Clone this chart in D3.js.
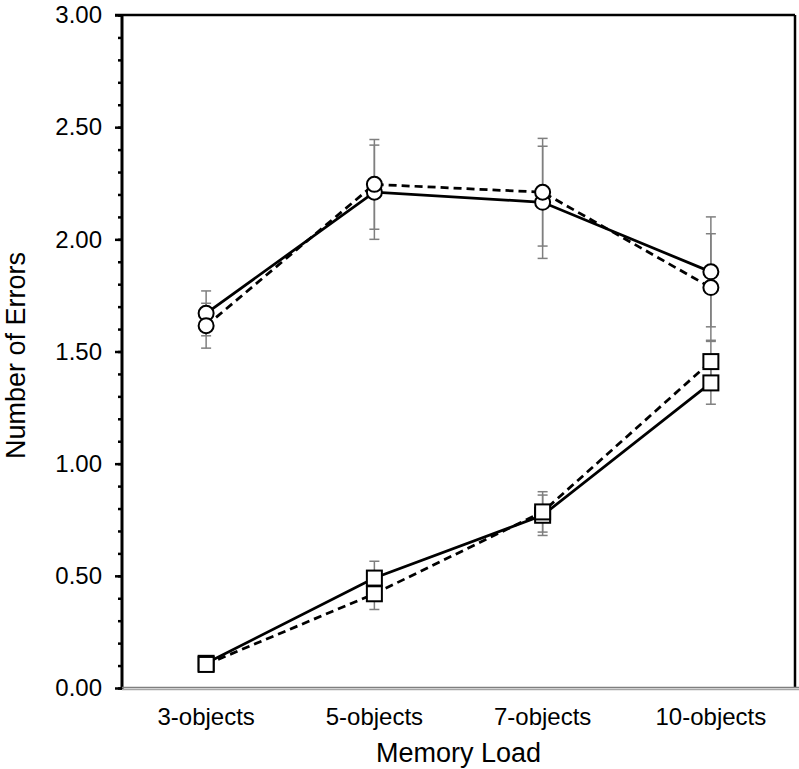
<!DOCTYPE html>
<html>
<head>
<meta charset="utf-8">
<script src="https://cdn.jsdelivr.net/npm/d3@7"></script>
<style>
  body { margin: 0; background: #fff; }
  text { font-family: "Liberation Sans", Arial, sans-serif; fill: #000; }
</style>
</head>
<body>
<div id="chart"></div>
<script>
// categories and tick labels
const categories = ['3-objects', '5-objects', '7-objects', '10-objects'];
const yTicks = [0, 0.5, 1.0, 1.5, 2.0, 2.5, 3.0];

// circle series (solid / dashed)
const circleSolid = [1.67, 2.21, 2.165, 1.855];
const circleSolidErr = [0.10, 0.21, 0.25, 0.245];
const circleDashed = [1.615, 2.245, 2.21, 1.785];
const circleDashedErr = [0.10, 0.20, 0.24, 0.24];

// square series (solid / dashed)
const squareSolid = [0.11, 0.49, 0.77, 1.36];
const squareSolidErr = [0.03, 0.075, 0.09, 0.095];
const squareDashed = [0.105, 0.42, 0.785, 1.455];
const squareDashedErr = [0.03, 0.07, 0.09, 0.095];

const W = 799, H = 769;
const margin = {top: 15, right: 4, bottom: 81, left: 122};
const width = W - margin.left - margin.right;
const height = H - margin.top - margin.bottom;

const svg = d3.select('#chart').append('svg')
  .attr('width', W)
  .attr('height', H);

const g = svg.append('g')
  .attr('transform', `translate(${margin.left},${margin.top})`);

const x = d3.scaleBand()
  .domain(categories)
  .range([0, width]);

const y = d3.scaleLinear()
  .domain([0, 3])
  .range([height, 0]);

// frame: top and right borders
g.append('line')
  .attr('x1', -7).attr('x2', width)
  .attr('y1', 0).attr('y2', 0)
  .attr('stroke', '#000').attr('stroke-width', 2.5);
g.append('line')
  .attr('x1', width).attr('x2', width)
  .attr('y1', 0).attr('y2', height)
  .attr('stroke', '#000').attr('stroke-width', 2.5);

// minor y ticks
const yMinor = d3.axisLeft(y)
  .tickValues(d3.range(0, 3.001, 0.1))
  .tickSize(4)
  .tickFormat('');
g.append('g').call(yMinor)
  .call(s => s.select('.domain').remove())
  .selectAll('line').attr('stroke', '#000').attr('stroke-width', 2.5);

// major y axis
const yAxis = d3.axisLeft(y)
  .tickValues(yTicks)
  .tickSize(7)
  .tickPadding(13)
  .tickFormat(d3.format('.2f'));
g.append('g').call(yAxis)
  .call(s => s.select('.domain').attr('stroke', '#000').attr('stroke-width', 3).attr('d', `M0,${height + 1}V0`))
  .call(s => s.selectAll('line').attr('stroke', '#000').attr('stroke-width', 2.5))
  .selectAll('text')
  .style('font-size', '24px');

// x axis (gray baseline, no ticks)
const xAxis = d3.axisBottom(x).tickSize(0).tickPadding(20);
const xg = g.append('g')
  .attr('transform', `translate(0,${height})`)
  .call(xAxis);
xg.select('.domain').remove();
xg.selectAll('text').style('font-size', '24px');
g.append('line')
  .attr('x1', 0).attr('x2', width + margin.right)
  .attr('y1', height - 0.5).attr('y2', height - 0.5)
  .attr('stroke', '#7f7f7f').attr('stroke-width', 1.5);
g.append('line')
  .attr('x1', 0).attr('x2', width + margin.right)
  .attr('y1', height + 1.5).attr('y2', height + 1.5)
  .attr('stroke', '#a6a6a6').attr('stroke-width', 1.5);

// axis titles
svg.append('text')
  .attr('x', margin.left + width / 2)
  .attr('y', 762)
  .attr('text-anchor', 'middle')
  .style('font-size', '27px')
  .text('Memory Load');
svg.append('text')
  .attr('transform', `translate(25,${margin.top + height / 2 + 4}) rotate(-90)`)
  .attr('text-anchor', 'middle')
  .style('font-size', '27px')
  .text('Number of Errors');

const cx = c => x(c) + x.bandwidth() / 2;

const series = [
  {vals: circleSolid, err: circleSolidErr, shape: 'circle', dash: null},
  {vals: circleDashed, err: circleDashedErr, shape: 'circle', dash: '8,5'},
  {vals: squareSolid, err: squareSolidErr, shape: 'square', dash: null},
  {vals: squareDashed, err: squareDashedErr, shape: 'square', dash: '8,5'}
];

// error bars
series.forEach(s => {
  const eb = g.append('g').attr('stroke', '#7f7f7f').attr('stroke-width', 1.5);
  categories.forEach((c, i) => {
    const hi = y(s.vals[i] + s.err[i]);
    const lo = y(s.vals[i] - s.err[i]);
    eb.append('line').attr('x1', cx(c)).attr('x2', cx(c)).attr('y1', hi).attr('y2', lo);
    eb.append('line').attr('x1', cx(c) - 5).attr('x2', cx(c) + 5).attr('y1', hi).attr('y2', hi);
    eb.append('line').attr('x1', cx(c) - 5).attr('x2', cx(c) + 5).attr('y1', lo).attr('y2', lo);
  });
});

// lines
const line = d3.line()
  .x((d, i) => cx(categories[i]))
  .y(d => y(d));
series.forEach(s => {
  g.append('path')
    .datum(s.vals)
    .attr('d', line)
    .attr('fill', 'none')
    .attr('stroke', '#000')
    .attr('stroke-width', 2.75)
    .attr('stroke-dasharray', s.dash);
});

// markers
series.forEach(s => {
  if (s.shape === 'circle') {
    g.selectAll(null)
      .data(s.vals)
      .enter()
      .append('circle')
      .attr('cx', (d, i) => cx(categories[i]))
      .attr('cy', d => y(d))
      .attr('r', 7.5)
      .attr('fill', '#fff')
      .attr('stroke', '#000')
      .attr('stroke-width', 2);
  } else {
    g.selectAll(null)
      .data(s.vals)
      .enter()
      .append('rect')
      .attr('x', (d, i) => cx(categories[i]) - 7.5)
      .attr('y', d => y(d) - 7.5)
      .attr('width', 15)
      .attr('height', 15)
      .attr('fill', '#fff')
      .attr('stroke', '#000')
      .attr('stroke-width', 2);
  }
});
</script>
</body>
</html>
